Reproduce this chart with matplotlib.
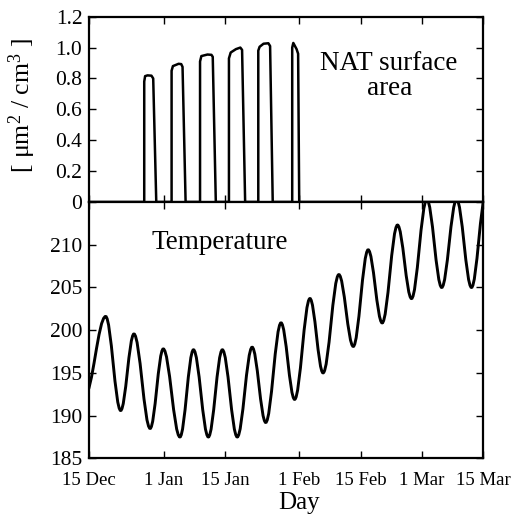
import numpy as np
import matplotlib.pyplot as plt
from matplotlib.path import Path
from matplotlib.patches import PathPatch

plt.rcParams['font.family'] = ['Liberation Serif', 'DejaVu Serif']
plt.rcParams['mathtext.fontset'] = 'custom'
plt.rcParams['mathtext.rm'] = 'Liberation Serif'
plt.rcParams['mathtext.default'] = 'regular'

# days after 15 Dec
tick_days = [0, 17, 31, 48, 62, 76, 90]
tick_names = ['15 Dec', '1 Jan', '15 Jan', '1 Feb', '15 Feb', '1 Mar', '15 Mar']

# NAT surface area [um2/cm3], vertices
nat_days = [0,
            12.55, 12.55, 12.75, 13.3, 14.2, 14.6, 15.3,
            18.8, 18.8, 19.1, 20.4, 21.0, 21.3, 22.0,
            25.3, 25.3, 25.6, 27.0, 27.9, 28.2, 28.9,
            31.9, 31.9, 32.3, 33.5, 34.5, 34.9, 35.6,
            38.6, 38.6, 38.9, 39.8, 40.9, 41.3, 41.9,
            46.35, 46.35, 46.6, 47.35, 47.7, 47.95,
            90]
nat_area = [0,
            0, 0.78, 0.815, 0.82, 0.818, 0.80, 0,
            0, 0.85, 0.88, 0.895, 0.893, 0.875, 0,
            0, 0.91, 0.945, 0.955, 0.953, 0.94, 0,
            0, 0.93, 0.968, 0.99, 1.0, 0.985, 0,
            0, 0.98, 1.005, 1.025, 1.028, 1.01, 0,
            0, 1.0, 1.03, 0.99, 0.96, 0,
            0]

# temperature [K], turning points (troughs and peaks)
temp_days = [-1.0, 3.74, 7.17, 10.2, 13.9, 16.9, 20.7, 23.8, 27.2, 30.4, 33.8,
             37.2, 40.3, 43.8, 46.9, 50.4, 53.4, 57.0, 60.3, 63.7, 66.9,
             70.4, 73.6, 77.1, 80.5, 83.9, 87.3, 90.6]
temp_vals = [192.4, 201.6, 190.6, 199.55, 188.5, 197.8, 187.5, 197.7, 187.5,
             197.7, 187.5, 198.0, 189.2, 200.85, 191.9, 203.7, 195.0, 206.5,
             198.1, 209.4, 200.85, 212.3, 203.7, 215.3, 205.0, 215.3, 205.0,
             215.9]

fig = plt.figure(figsize=(5.14, 5.17), dpi=100)
ax1 = fig.add_axes([0.1737, 0.6093, 0.7666, 0.3584])
ax2 = fig.add_axes([0.1737, 0.1135, 0.7666, 0.4958])

ax1.plot(nat_days, nat_area, color='black', lw=1.8, solid_joinstyle='round')
ax1.set_xlim(0, 90)
ax1.set_ylim(0, 1.2)
ax1.set_yticks([0, 0.2, 0.4, 0.6, 0.8, 1.0, 1.2])
ax1.set_yticklabels(['0', '0.2', '0.4', '0.6', '0.8', '1.0', '1.2'])
ax1.set_xticks(tick_days)
ax1.set_xticklabels([])
ax1.set_ylabel('[ μm$^2$ / cm$^3$ ]', fontsize=18.5)
ax1.yaxis.set_label_coords(-0.13, 0.52)
ax1.text(0.761, 0.68, 'NAT surface\narea', transform=ax1.transAxes,
         ha='center', va='center', fontsize=19.5, linespacing=1.05)

# smooth curve through the turning points (flat tangents at each extremum)
k = 0.36
verts = [(temp_days[0], temp_vals[0])]
codes = [Path.MOVETO]
for i in range(1, len(temp_days)):
    d0, t0 = temp_days[i - 1], temp_vals[i - 1]
    d1, t1 = temp_days[i], temp_vals[i]
    dx = d1 - d0
    verts += [(d0 + k * dx, t0), (d1 - k * dx, t1), (d1, t1)]
    codes += [Path.CURVE4] * 3
ax2.add_patch(PathPatch(Path(verts, codes), facecolor='none', edgecolor='black',
                        lw=2.1, capstyle='round'))
ax2.set_xlim(0, 90)
ax2.set_ylim(185, 215)
ax2.set_yticks([185, 190, 195, 200, 205, 210, 215])
ax2.set_yticklabels(['185', '190', '195', '200', '205', '210', ''])
ax2.set_xticks(tick_days)
ax2.set_xticklabels(tick_names)
ax2.set_xlabel('Day', fontsize=18)
ax2.xaxis.set_label_coords(0.532, -0.13)
ax2.text(0.332, 0.842, 'Temperature', transform=ax2.transAxes,
         ha='center', va='center', fontsize=19.5)

for ax in (ax1, ax2):
    for s in ax.spines.values():
        s.set_linewidth(1.6)
    ax.tick_params(direction='in', top=True, right=True, length=5, width=1.0)
    ax.tick_params(axis='y', labelsize=15.5, pad=5)
ax2.tick_params(axis='x', labelsize=13.5, pad=10)

fig.savefig('out.png', dpi=100)
